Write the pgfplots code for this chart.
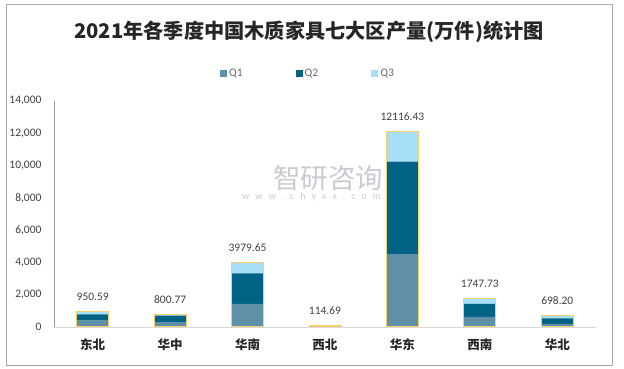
\documentclass[border=0pt]{standalone}
\usepackage{pgfplots}
\pgfplotsset{compat=1.18}
\usepackage{fontspec}
\setmainfont{Carlito}
\newfontfamily\cjk{Noto Sans CJK SC}
\definecolor{cQ1}{HTML}{5E90A8}
\definecolor{cQ2}{HTML}{006385}
\definecolor{cQ3}{HTML}{A6DFF7}
\definecolor{cEdge}{HTML}{F7CF6A}
\definecolor{cTxt}{HTML}{404040}
\definecolor{cWm}{HTML}{C8CBD0}
\begin{document}
\begin{tikzpicture}
\begin{axis}[
  name=ax, scale only axis,
  width=542pt, height=226pt,
  ybar stacked, bar width=32pt,
  xmin=-0.5, xmax=6.5, ymin=0, ymax=14000,
  xtick={0,...,6},
  xticklabels={东北,华中,华南,西北,华东,西南,华北},
  x tick label style={font=\cjk\bfseries\fontsize{12.5}{12.5}\selectfont, text=black!85, yshift=-8pt},
  ytick={0,2000,...,14000},
  scaled y ticks=false,
  y tick label style={font=\fontsize{11.5}{11.5}\selectfont, text=cTxt, xshift=-9pt},
  /pgf/number format/1000 sep={,},
  /pgf/number format/assume math mode=true,
  major tick length=0pt,
  axis x line*=bottom, axis y line*=left,
  x axis line style={draw=gray!30, line width=0.8pt, -},
  y axis line style={draw=gray!80, line width=0.6pt, -},
  clip=false,
  legend columns=3,
  legend style={at={(0.5,1)}, anchor=center, yshift=27pt, xshift=-17pt, draw=none, fill=none,
    font=\fontsize{11.5}{11.5}\selectfont, text=gray!80!black,
    /tikz/every even column/.append style={column sep=51pt}},
  legend image code/.code={\fill[#1] (0pt,-3.5pt) rectangle (7pt,3.5pt);},
]
\coordinate (O) at (rel axis cs:0,0);
\addplot[fill=cQ1, draw=none] coordinates {(0,400) (1,300) (2,1425) (3,40) (4,4520) (5,620) (6,200)};
\addplot[fill=cQ2, draw=none] coordinates {(0,380) (1,400) (2,1890) (3,40) (4,5720) (5,805) (6,340)};
\addplot[fill=cQ3, draw=none] coordinates {(0,170.59) (1,100.77) (2,664.65) (3,34.69) (4,1876.43) (5,322.73) (6,158.20)};
\legend{Q1,Q2,Q3}
\end{axis}
\begin{axis}[
  at={(O)}, anchor=south west, scale only axis,
  width=542pt, height=226pt,
  ybar, bar width=32pt,
  xmin=-0.5, xmax=6.5, ymin=0, ymax=14000,
  hide axis, clip=false,
  point meta=explicit symbolic,
  nodes near coords,
  nodes near coords style={font=\fontsize{11.5}{11.5}\selectfont, text=cTxt, yshift=7pt},
]
\addplot[fill=none, draw=cEdge, line width=1pt] coordinates {
 (0,950.59) [950.59] (1,800.77) [800.77] (2,3979.65) [3979.65] (3,114.69) [114.69]
 (4,12116.43) [12116.43] (5,1747.73) [1747.73] (6,698.20) [698.20]};
\end{axis}
\draw[gray!70, line width=0.8pt] ([shift={(-48pt,-38pt)}]O) rectangle ([shift={(558pt,323pt)}]O);
\node[text=cWm, font=\cjk\fontsize{27.5}{27.5}\selectfont, anchor=west, inner sep=0pt] at ([shift={(219pt,149pt)}]O) {智研咨询};
\node[text=cWm, font=\fontsize{10}{10}\selectfont, anchor=west, inner sep=0pt] at ([shift={(188pt,130pt)}]O) {w\hspace{6pt}w\hspace{6pt}w\hspace{6pt}.\hspace{6pt}c\hspace{6pt}h\hspace{6pt}y\hspace{6pt}x\hspace{6pt}x\hspace{6pt}.\hspace{6pt}c\hspace{6pt}o\hspace{6pt}m};
\node[font=\cjk\bfseries\fontsize{20.2}{20.2}\selectfont, text=black!85] at ([shift={(255pt,295pt)}]O) {2021年各季度中国木质家具七大区产量(万件)统计图};
\pgfresetboundingbox
\path[use as bounding box] ([shift={(-54pt,-42pt)}]O) rectangle ([shift={(570pt,327pt)}]O);
\end{tikzpicture}
\end{document}
